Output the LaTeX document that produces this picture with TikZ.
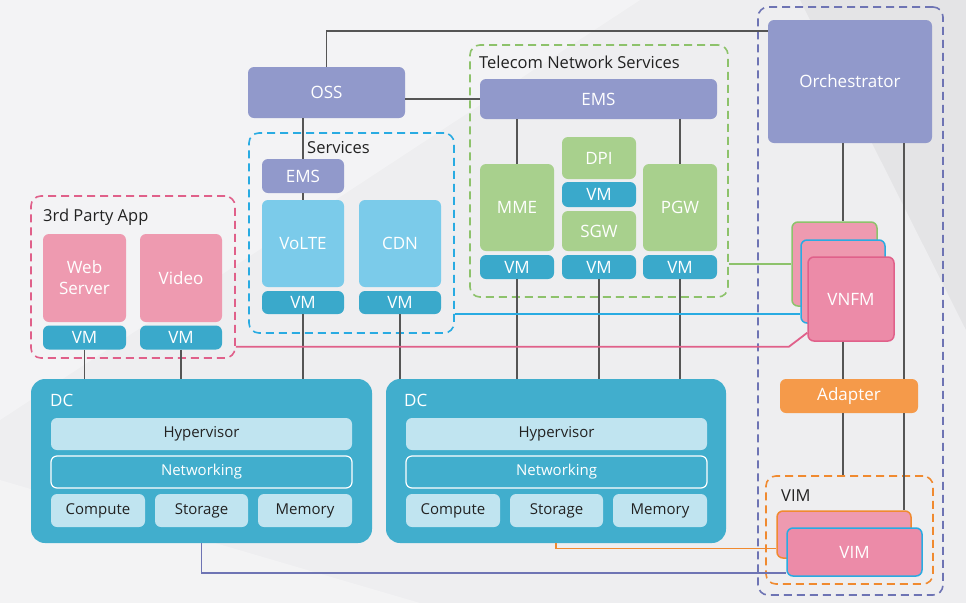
\documentclass[tikz,border=0pt]{standalone}
\usepackage{fontspec}
\setmainfont{Open Sans}
\usepackage{xcolor}
\usepackage{tikz}

\definecolor{bgc}{RGB}{238,238,240}
\definecolor{linec}{RGB}{85,85,85}
\definecolor{purp}{RGB}{145,153,203}
\definecolor{purpd}{RGB}{110,116,180}
\definecolor{pinkb}{RGB}{238,154,176}
\definecolor{pinkf}{RGB}{236,139,168}
\definecolor{pinkd}{RGB}{224,96,138}
\definecolor{skyb}{RGB}{123,203,234}
\definecolor{cyand}{RGB}{41,171,226}
\definecolor{vmc}{RGB}{58,169,203}
\definecolor{greenb}{RGB}{168,208,141}
\definecolor{greend}{RGB}{141,194,107}
\definecolor{orangeb}{RGB}{245,154,74}
\definecolor{oranged}{RGB}{240,138,48}
\definecolor{dcc}{RGB}{65,174,205}
\definecolor{dcin}{RGB}{192,228,240}
\definecolor{txt}{RGB}{34,34,34}

\begin{document}
\begin{tikzpicture}[
  x=1pt,y=-1pt,
  block/.style={rounded corners=6pt,inner sep=0pt,text=white,font=\fontsize{17}{21}\selectfont},
  vm/.style={block,fill=vmc,minimum height=24pt},
  inbox/.style={rounded corners=6pt,inner sep=0pt,fill=dcin,text=txt,minimum height=32pt,font=\fontsize{15}{18}\selectfont},
  frame/.style={draw,dash pattern=on 8pt off 5pt,line width=1.6pt,rounded corners=10pt,inner sep=0pt},
  title/.style={anchor=west,inner sep=0pt,text=txt,font=\fontsize{16.5}{20}\selectfont},
  conn/.style={draw=linec,line width=1.8pt},
  every node/.style={align=center}
]
% background
\fill[bgc] (0,0) rectangle (966,603);
\fill[white,opacity=0.35] (0,0) -- (640,0) -- (0,420) -- cycle;
\fill[black,opacity=0.04] (800,0) -- (966,0) -- (966,330) -- cycle;
\fill[white,opacity=0.3] (0,603) -- (0,480) -- (420,603) -- cycle;

% dashed groups
\node[frame,draw=pinkd,minimum width=204pt,minimum height=162pt] (thirdP) at (133,277) {};
\node[frame,draw=cyand,minimum width=205pt,minimum height=200pt] (services) at (351.5,233) {};
\node[frame,draw=greend,minimum width=258pt,minimum height=252pt] (telecom) at (599,171) {};
\node[frame,draw=purpd,minimum width=185pt,minimum height=588pt] (mano) at (850.5,301) {};
\node[frame,draw=oranged,minimum width=167pt,minimum height=108pt] (vimbox) at (849.5,530) {};

\node[title] at (43,217) {3rd Party App};
\node[title] at (307,148) {Services};
\node[title] at (479,62) {Telecom Network Services};
\node[title] at (781,496) {VIM};

% management
\node[block,fill=purp,minimum width=164pt,minimum height=123pt] (orch) at (850,81.5) {Orchestrator};
\node[block,fill=purp,minimum width=157pt,minimum height=51pt] (oss) at (326.5,92.5) {OSS};
\node[block,fill=purp,minimum width=237pt,minimum height=40pt] (emsT) at (598.5,99) {EMS};
\node[block,fill=purp,minimum width=82pt,minimum height=34pt] (emsS) at (303,176) {EMS};

% 3rd party apps
\node[block,fill=pinkb,minimum width=83pt,minimum height=88pt] (web) at (84.5,278) {Web\\Server};
\node[vm,minimum width=83pt] (vmWeb) at (84.5,337.5) {VM};
\node[block,fill=pinkb,minimum width=82pt,minimum height=88pt] (video) at (181,278) {Video};
\node[vm,minimum width=82pt] (vmVideo) at (181,337.5) {VM};

% services
\node[block,fill=skyb,minimum width=82pt,minimum height=87pt] (volte) at (303,243.5) {VoLTE};
\node[vm,minimum width=82pt,minimum height=23pt] (vmVolte) at (303,302.5) {VM};
\node[block,fill=skyb,minimum width=82pt,minimum height=87pt] (cdn) at (400,243.5) {CDN};
\node[vm,minimum width=82pt,minimum height=23pt] (vmCdn) at (400,302.5) {VM};

% telecom network services
\node[block,fill=greenb,minimum width=74pt,minimum height=87pt] (mme) at (517,207.5) {MME};
\node[vm,minimum width=74pt] (vmMme) at (517,267) {VM};
\node[block,fill=greenb,minimum width=74pt,minimum height=42pt] (dpi) at (599,158) {DPI};
\node[vm,minimum width=74pt,minimum height=25pt] (vmDpi) at (599,194.5) {VM};
\node[block,fill=greenb,minimum width=74pt,minimum height=40pt] (sgw) at (599,231) {SGW};
\node[vm,minimum width=74pt] (vmSgw) at (599,267) {VM};
\node[block,fill=greenb,minimum width=74pt,minimum height=87pt] (pgw) at (680,207.5) {PGW};
\node[vm,minimum width=74pt] (vmPgw) at (680,267) {VM};

% VNFM stack, adapter, VIM
\node[block,fill=pinkb,draw=greend,line width=1.5pt,minimum width=85pt,minimum height=84pt] (vnfmA) at (834.5,264) {};
\node[block,fill=pinkb!90!pinkf,draw=cyand,line width=1.5pt,minimum width=84pt,minimum height=83pt] (vnfmB) at (843,281.5) {};
\node[block,fill=pinkf,draw=pinkd,line width=1.5pt,minimum width=86pt,minimum height=84pt] (vnfm) at (851,299) {VNFM};
\node[block,fill=orangeb,minimum width=138pt,minimum height=34pt] (adapter) at (849,396) {Adapter};
\node[block,fill=pinkb,draw=oranged,line width=1.5pt,minimum width=134pt,minimum height=47pt] (vimA) at (844,534.5) {};
\node[block,fill=pinkf,draw=cyand,line width=1.5pt,minimum width=135pt,minimum height=48pt] (vim) at (854.5,552) {VIM};

% data centres
\node[block,fill=dcc,rounded corners=14pt,minimum width=341pt,minimum height=164pt] (dcA) at (201.5,461) {};
\node[block,anchor=west,inner sep=0pt] (dcAt) at (50,400) {DC};
\node[inbox,minimum width=301pt] (hypA) at (201.5,434) {Hypervisor};
\node[inbox,fill=none,draw=white,line width=1.2pt,text=white,minimum width=301pt] (netA) at (201.5,472) {Networking};
\node[inbox,minimum width=94pt,minimum height=33pt] (compA) at (98,510.5) {Compute};
\node[inbox,minimum width=93pt,minimum height=33pt] (storA) at (201.5,510.5) {Storage};
\node[inbox,minimum width=94pt,minimum height=33pt] (memA) at (305,510.5) {Memory};

\node[block,fill=dcc,rounded corners=14pt,minimum width=340pt,minimum height=164pt] (dcB) at (556,461) {};
\node[block,anchor=west,inner sep=0pt] (dcBt) at (404,400) {DC};
\node[inbox,minimum width=301pt] (hypB) at (556.5,434) {Hypervisor};
\node[inbox,fill=none,draw=white,line width=1.2pt,text=white,minimum width=301pt] (netB) at (556.5,472) {Networking};
\node[inbox,minimum width=94pt,minimum height=33pt] (compB) at (453,510.5) {Compute};
\node[inbox,minimum width=93pt,minimum height=33pt] (storB) at (556.5,510.5) {Storage};
\node[inbox,minimum width=94pt,minimum height=33pt] (memB) at (660,510.5) {Memory};

% management links
\draw[conn] (oss.north) |- ([yshift=-11pt]orch.north west);
\draw[conn] (oss.east |- emsT.west) -- (emsT.west);
\draw[conn] (oss.south -| emsS.north) -- (emsS.north);
\draw[conn] (emsS.south) -- (volte.north);
\draw[conn] (emsT.south -| mme.north) -- (mme.north);
\draw[conn] (emsT.south -| pgw.north) -- (pgw.north);
\draw[conn] (orch.south -| vnfmB.center) -- (vnfmA.north -| vnfmB.center);
\draw[conn] (vnfm.south -| vnfmB.center) -- (adapter.north -| vnfmB.center);
\draw[conn] (adapter.south -| vnfmB.center) -- (vimbox.north -| vnfmB.center);
\coordinate (orchR) at ([xshift=-28pt]orch.south east);
\draw[conn] (orchR) -- (orchR |- adapter.north);
\draw[conn] (adapter.south -| orchR) -- (vimA.north -| orchR);

% VMs to DC
\draw[conn] (vmWeb.south) -- (vmWeb.south |- dcA.north);
\draw[conn] (vmVideo.south) -- (vmVideo.south |- dcA.north);
\draw[conn] (vmVolte.south) -- (vmVolte.south |- dcA.north);
\draw[conn] (vmCdn.south) -- (vmCdn.south |- dcB.north);
\draw[conn] (vmMme.south) -- (vmMme.south |- dcB.north);
\draw[conn] (vmSgw.south) -- (vmSgw.south |- dcB.north);
\draw[conn] (vmPgw.south) -- (vmPgw.south |- dcB.north);

% coloured links
\draw[greend,line width=1.8pt] (vnfmA.west -| telecom.east) -- (vnfmA.west);
\draw[cyand,line width=1.8pt] ([yshift=20pt]services.south east) -- ([yshift=20pt]services.south east -| vnfmB.west);
\draw[pinkd,line width=1.8pt] ([yshift=12pt]thirdP.south east) -- ++(553,0) -- ([yshift=9pt]vnfm.south west);
\draw[oranged,line width=1.8pt] (dcB.south) |- ([yshift=-14pt]vimA.west);
\draw[purpd,line width=1.8pt] (dcA.south) |- ([yshift=-21pt]vim.west);
\end{tikzpicture}
\end{document}
